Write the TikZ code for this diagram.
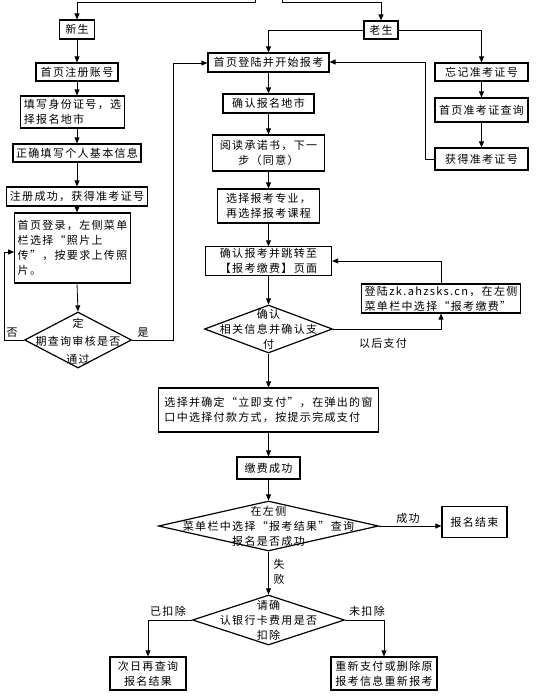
\documentclass[tikz,border=0pt]{standalone}
\usepackage{fontspec}
\newfontfamily\cjk[LetterSpace=12]{Noto Sans CJK SC}
\usetikzlibrary{shapes.geometric,arrows.meta}

\begin{document}
\begin{tikzpicture}[x=1pt,y=-1pt,
  box/.style={draw,line width=1.2pt,inner xsep=3pt,inner ysep=1.5pt,align=left,
    font=\cjk\fontsize{11}{15}\selectfont},
  dia/.style={draw,diamond,line width=1.2pt,inner sep=0pt},
  txt/.style={inner sep=0pt,align=center,font=\cjk\fontsize{11}{15}\selectfont},
  arr/.style={line width=0.8pt,-{Triangle[length=6pt,width=5pt]}}]
\fill[white] (0,0) rectangle (551,696);
\useasboundingbox (0,0) rectangle (551,696);

\coordinate (topL) at (255,-4);
\coordinate (bendL) at (255,2);
\coordinate (topR) at (282,-4);
\coordinate (bendR) at (282,2);
\coordinate (loopL) at (4,252);
\coordinate (loopR) at (173,63);
\coordinate (backR) at (425,62);

\node[box,minimum width=35,minimum height=19] (xin) at (77,29.5) {新生};
\node[box,minimum width=82,minimum height=18] (zhuce) at (77,72) {首页注册账号};
\node[box,minimum width=101,minimum height=32] (tianxie) at (72.5,112) {填写身份证号，选\\择报名地市};
\node[box,minimum width=127,minimum height=18] (zhengque) at (77,153) {正确填写个人基本信息};
\node[box,minimum width=141,minimum height=19] (chenggong) at (77,196.5) {注册成功，获得准考证号};
\node[box,minimum width=115,minimum height=70] (denglu) at (72.5,248) {首页登录，左侧菜单\\栏选择“照片上\\传”，按要求上传照\\片。};
\node[dia,minimum width=107,minimum height=56] (dingqi) at (78,340) {};
\node[txt,font=\cjk\fontsize{11}{18}\selectfont] (dingqiT) at (78,341) {定\\期查询审核是否\\通过};
\node[txt] (fou) at (12,333) {否};
\node[txt] (shi) at (143,333) {是};

\node[box,minimum width=34,minimum height=18] (lao) at (381,30) {老生};
\node[box,minimum width=121,minimum height=19] (kaishi) at (268.5,62.5) {首页登陆并开始报考};
\node[box,minimum width=93,minimum height=18] (wangji) at (481.5,72) {忘记准考证号};
\node[box,minimum width=93,minimum height=24] (chaxun) at (481.5,110) {首页准考证查询};
\node[box,minimum width=93,minimum height=22] (huode) at (481.5,159) {获得准考证号};
\node[box,minimum width=91,minimum height=19] (dishi) at (268.5,103.5) {确认报名地市};
\node[box,align=center,minimum width=112,minimum height=36] (yuedu) at (268.5,153) {阅读承诺书，下一\\步（同意）};
\node[box,align=center,minimum width=102,minimum height=34] (zhuanye) at (268.5,206) {选择报考专业，\\再选择报考课程};
\node[box,minimum width=126,minimum height=28] (tiaozhuan) at (268.5,261) {确认报考并跳转至\\【报考缴费】页面};
\node[dia,minimum width=128,minimum height=48] (zhifu) at (268.5,329) {};
\node[txt] (zhifuT) at (268.5,329) {确认\\相关信息并确认支\\付};
\node[box,minimum width=152,minimum height=29] (zk) at (441,298.5) {登陆zk.ahzsks.cn，在左侧\\菜单栏中选择“报考缴费”};
\node[txt] (yihou) at (383,343) {以后支付};

\node[box,minimum width=220,minimum height=44] (liji) at (268.5,410) {选择并确定“立即支付”，在弹出的窗\\口中选择付款方式，按提示完成支付};
\node[box,minimum width=63,minimum height=22] (jiaofei) at (268.5,468) {缴费成功};
\node[dia,minimum width=220,minimum height=50] (jieguo) at (268.5,526) {};
\node[txt] (jieguoT) at (268.5,526) {在左侧\\菜单栏中选择“报考结果”查询\\报名是否成功};
\node[box,minimum width=65,minimum height=31] (jieshu) at (474.5,522) {报名结束};
\node[txt] (cheng) at (408,518) {成功};
\node[txt] (shibai) at (279,572) {失\\败};
\node[dia,minimum width=152,minimum height=50] (kouchu) at (268.5,620) {};
\node[txt] (kouchuT) at (268.5,620) {请确\\认银行卡费用是否\\扣除};
\node[txt] (yikou) at (168,611) {已扣除};
\node[txt] (weikou) at (367,611) {未扣除};
\node[box,align=center,minimum width=76,minimum height=33] (ciri) at (148,673.5) {次日再查询\\报名结果};
\node[box,align=center,minimum width=106,minimum height=33] (chongxin) at (384,673.5) {重新支付或删除原\\报考信息重新报考};

\draw[arr] (topL) -- (bendL) -| (xin.north);
\draw[arr] (topR) -- (bendR) -| (lao.north);
\draw[arr] (xin) -- (zhuce);
\draw[arr] (zhuce) -- (zhuce |- tianxie.north);
\draw[arr] (zhuce |- tianxie.south) -- (zhengque);
\draw[arr] (zhengque) -- (chenggong);
\draw[arr] (chenggong) -- (chenggong |- denglu.north);
\draw[arr] (chenggong |- denglu.south) -- (dingqi.north);
\draw[arr] (dingqi.west) -| (loopL) -- (loopL -| denglu.west);
\draw[arr] (dingqi.east) -| (loopR) -- (loopR -| kaishi.west);

\draw[arr] (lao.west) -| (kaishi.north);
\draw[arr] (lao.east) -| (wangji.north);
\draw[arr] (wangji) -- (chaxun);
\draw[arr] (chaxun) -- (huode);
\draw[arr] (huode.west) -| (backR) -- (backR -| kaishi.east);
\draw[arr] (kaishi) -- (dishi);
\draw[arr] (dishi) -- (yuedu);
\draw[arr] (yuedu) -- (zhuanye);
\draw[arr] (zhuanye) -- (tiaozhuan);
\draw[arr] (tiaozhuan) -- (zhifu.north);
\draw[arr] (zhifu.east) -| (zk.south);
\draw[arr] (zk.north) |- (tiaozhuan.east);
\draw[arr] (zhifu.south) -- (liji);
\draw[arr] (liji) -- (jiaofei);
\draw[arr] (jiaofei) -- (jieguo.north);
\draw[arr] (jieguo.east) -- (jieguo.east -| jieshu.west);
\draw[arr] (jieguo.south) -- (kouchu.north);
\draw[arr] (kouchu.west) -| (ciri.north);
\draw[arr] (kouchu.east) -| (chongxin.north);
\end{tikzpicture}
\end{document}
